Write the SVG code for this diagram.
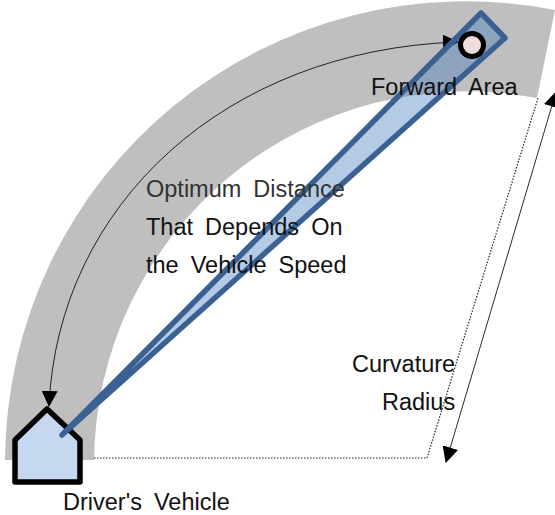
<svg xmlns="http://www.w3.org/2000/svg" width="555" height="515" viewBox="0 0 555 515">
<style>
text{font-family:"Liberation Sans",Arial,sans-serif;font-size:23.5px;fill:#111;word-spacing:5.5px}
.thin{fill:none;stroke:#111;stroke-width:.9}
.dot{fill:none;stroke:#222;stroke-width:1.2;stroke-dasharray:1.5 1.5}
</style>
<defs>
<marker id="a" viewBox="0 0 16 16" refX="15" refY="8" markerWidth="16" markerHeight="16" markerUnits="userSpaceOnUse" orient="auto-start-reverse"><path d="M0 0L16 8L0 16z" fill="#000"/></marker>
</defs>
<g id="road"><path d="M5 460A461 461 0 0 1 555 10L537 98A373 373 0 0 0 94 460Z" fill="#bfbfbf"/></g>
<g id="connectors">
<path class="dot" d="M94 458H427L538 98"/>
<path class="thin" d="M49 406C58 205 225 50 458 42" marker-start="url(#a)" marker-end="url(#a)"/>
<path class="thin" d="M556 92L446 462" marker-start="url(#a)" marker-end="url(#a)"/>
</g>
<g id="drivers-vehicle"><path d="M47 409L80 440V482H15V440Z" fill="#c5d8ef" stroke="#000" stroke-width="5.5" stroke-linejoin="round"/></g>
<g id="sight-cone"><path d="M62 435L481 13L505 38Z" fill="#467dbe" fill-opacity=".4" stroke="#3a6191" stroke-width="5.5" stroke-linejoin="round"/></g>
<g id="forward-point"><circle cx="472" cy="45" r="11.5" fill="#f0dcdc" stroke="#000" stroke-width="5"/></g>
<g id="labels">
<text x="371" y="95">Forward Area</text>
<text x="146" y="197" style="fill:#333">Optimum Distance</text>
<text x="146" y="235">That Depends On</text>
<text x="146" y="273">the Vehicle Speed</text>
<text x="352" y="372">Curvature</text>
<text x="382" y="410">Radius</text>
<text x="63" y="510">Driver's Vehicle</text>
</g>
</svg>
